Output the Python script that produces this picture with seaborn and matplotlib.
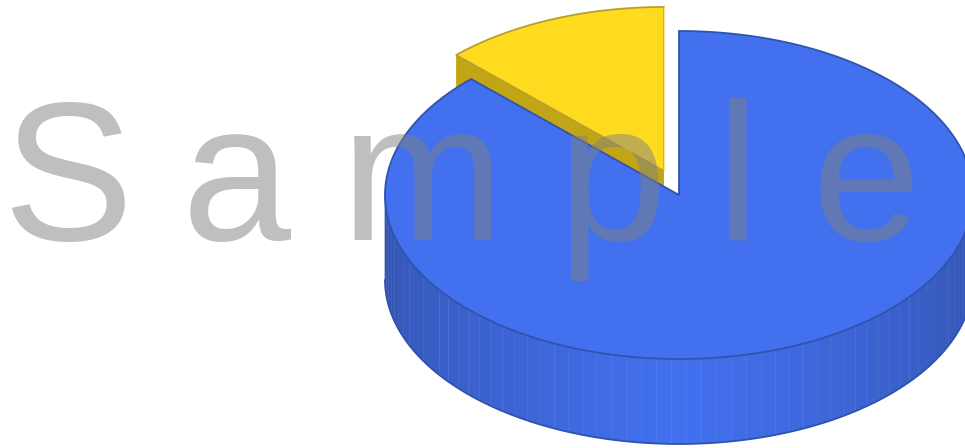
import numpy as np
import matplotlib
matplotlib.use("Agg")
import matplotlib.pyplot as plt
import seaborn as sns

# Pie data
categories = ["Main", "Other"]
shares = [87.5, 12.5]
slice_colors = ["#4270ef", "#ffdb1f"]
side_colors = ["#3353ae", "#4270ef", "#3353ae"]
yellow_side = "#c2a515"
blue_edge = "#3053ad"
yellow_edge = "#b8a02c"

# Watermark
watermark = "Sample"
watermark_centers = [67, 236, 423, 612, 738, 866]

# Projected pie geometry in figure pixels
CX, CY = 679, 195
RX, RY = 294, 164
DEPTH = 85
EXPLODE = (-15, -24)

sns.set_theme(style="white")
plt.rcParams["font.family"] = ["Liberation Sans", "DejaVu Sans"]

fig, ax = plt.subplots(figsize=(9.65, 4.48), dpi=100)
fig.subplots_adjust(0, 0, 1, 1)
ax.set_xlim(0, 965)
ax.set_ylim(448, 0)
ax.axis("off")


def rim(t, cx=CX, cy=CY):
    """Points on the projected rim; t is clockwise from 12 o'clock, in radians."""
    return cx + RX * np.sin(t), cy - RY * np.cos(t)


sweep = 2 * np.pi * shares[1] / sum(shares)

# Detached slice: top face and the visible cut wall
yc_x, yc_y = CX + EXPLODE[0], CY + EXPLODE[1]
t_y = np.linspace(-sweep, 0, 80)
rx_y, ry_y = rim(t_y, yc_x, yc_y)
wall_x = [rx_y[0], yc_x, yc_x, rx_y[0]]
wall_y = [ry_y[0], yc_y, yc_y + DEPTH, ry_y[0] + DEPTH]
ax.fill(wall_x, wall_y, color=yellow_side, lw=0, zorder=1)
ax.fill(np.r_[yc_x, rx_y], np.r_[yc_y, ry_y], facecolor=slice_colors[1],
        edgecolor=yellow_edge, lw=1.3, zorder=2)
ax.plot([yc_x, yc_x], [ry_y[-1], yc_y], color="#f0e6a0", lw=1, zorder=2.1)

# Outer wall of the main slice, shaded in vertical bands
band_pal = sns.blend_palette(side_colors, 61)
edges = np.linspace(-np.pi / 2, np.pi / 2, 62)
xs = CX + RX * np.sin(edges)
band_colors = sns.blend_palette(side_colors, 61)
for i in range(61):
    t = np.linspace(edges[i], edges[i + 1], 6) + np.pi
    tt = np.pi - np.linspace(edges[i], edges[i + 1], 6)
    bx, by = rim(tt)
    ax.fill(np.r_[bx, bx[::-1]], np.r_[by, by[::-1] + DEPTH],
            facecolor=band_colors[i], edgecolor=band_colors[i], lw=0.3, zorder=3)
tb = np.linspace(np.pi / 2, 3 * np.pi / 2, 240)
bx, by = rim(tb)
ax.plot(bx, by + DEPTH, color=blue_edge, lw=1.3, zorder=3.2)
ax.plot([CX - RX, CX - RX], [CY, CY + DEPTH], color=blue_edge, lw=1, zorder=3.2)

# Top face of the main slice
t_b = np.linspace(0, 2 * np.pi - sweep, 400)
rx_b, ry_b = rim(t_b)
ax.fill(np.r_[CX, rx_b], np.r_[CY, ry_b], facecolor=slice_colors[0],
        edgecolor=blue_edge, lw=1.3, zorder=4, joinstyle="miter")

# Watermark letters, spaced wide
for ch, x in zip(watermark, watermark_centers):
    ax.text(x, 240, ch, fontsize=141, color="#808080", alpha=0.5, ha="center",
            va="baseline", zorder=5, family=["Liberation Sans", "DejaVu Sans"])

fig.savefig("out.png", dpi=100)
